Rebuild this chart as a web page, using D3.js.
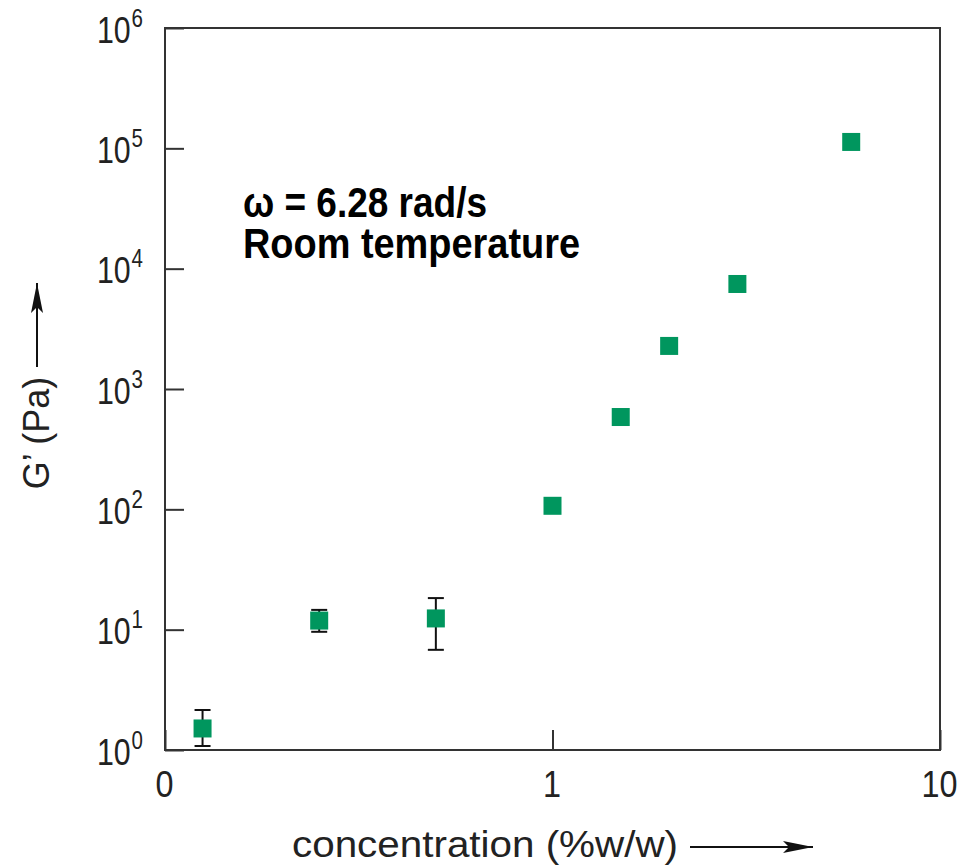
<!DOCTYPE html>
<html>
<head>
<meta charset="utf-8">
<script src="https://cdn.jsdelivr.net/npm/d3@7"></script>
<style>
  html, body { margin: 0; padding: 0; background: #fff; }
  svg { display: block; }
</style>
</head>
<body>
<svg id="chart" width="976" height="865"></svg>
<script>
// Storage modulus G' versus concentration, log–log
const concentration = [0.125, 0.25, 0.5, 1, 1.5, 2, 3, 5.9];
const gPrime        = [1.51, 11.9, 12.4, 107, 585, 2280, 7460, 113000];
const errLow        = [1.08, 9.6, 6.8, null, null, null, null, null];
const errHigh       = [2.15, 14.6, 18.3, null, null, null, null, null];

const xTickValues = [0.1, 1, 10];
const xTickLabels = ["0", "1", "10"];
const yTickValues = [1, 10, 100, 1e3, 1e4, 1e5, 1e6];
const yTickExponents = ["0", "1", "2", "3", "4", "5", "6"];

const margin = { left: 165, top: 28, right: 36, bottom: 115 };
const W = 976, H = 865;
const innerW = W - margin.left - margin.right;   // 775
const innerH = H - margin.top - margin.bottom;   // 722

const svg = d3.select("#chart");
const g = svg.append("g").attr("transform", `translate(${margin.left},${margin.top})`);

const x = d3.scaleLog().domain([0.1, 10]).range([0, innerW]);
const y = d3.scaleLog().domain([1, 1e6]).range([innerH, 0]);

const axisColor = "#333";
const textColor = "#222";
const green = "#00965e";
const font = "'Liberation Sans', Arial, Helvetica, sans-serif";

// Frame
g.append("rect")
  .attr("x", 0).attr("y", 0)
  .attr("width", innerW).attr("height", innerH)
  .attr("fill", "none")
  .attr("stroke", axisColor)
  .attr("stroke-width", 2);

// Y axis: inward ticks, labels as 10^n (one text per label, superscript as tspan)
const yAxis = g.append("g")
  .call(d3.axisLeft(y).tickValues(yTickValues).tickSize(-19).tickFormat(""));
yAxis.select(".domain").remove();
yAxis.selectAll(".tick line").attr("stroke", axisColor).attr("stroke-width", 2);
yAxis.selectAll(".tick").each(function(d, i) {
  const t = d3.select(this).append("text")
    .attr("transform", "translate(-68,14) scale(0.82,1)")
    .attr("text-anchor", "start")
    .attr("fill", textColor)
    .style("font-family", font)
    .style("font-size", "37px");
  t.append("tspan").text("10");
  t.append("tspan")
    .attr("dy", -16)
    .attr("dx", 1)
    .style("font-size", "25px")
    .text(yTickExponents[i]);
});

// X axis: inward ticks
const xAxis = g.append("g")
  .attr("transform", `translate(0,${innerH})`)
  .call(d3.axisBottom(x).tickValues(xTickValues).tickSize(-20)
    .tickFormat((d, i) => xTickLabels[i]));
xAxis.select(".domain").remove();
xAxis.selectAll(".tick line").attr("stroke", axisColor).attr("stroke-width", 2);
xAxis.selectAll(".tick text")
  .attr("y", 47).attr("dy", 0)
  .attr("x", -1)
  .attr("fill", textColor)
  .style("font-family", font)
  .style("font-size", "37px")
  .attr("textLength", (d, i) => xTickLabels[i].length * 18)
  .attr("lengthAdjust", "spacingAndGlyphs");

// Axis titles with arrows
svg.append("defs").append("marker")
  .attr("id", "arrowhead")
  .attr("viewBox", "0 0 30 12")
  .attr("refX", 30).attr("refY", 6)
  .attr("markerWidth", 30).attr("markerHeight", 12)
  .attr("markerUnits", "userSpaceOnUse")
  .attr("orient", "auto")
  .append("path")
  .attr("d", "M0,0 L30,6 L0,12 L6,6 Z")
  .attr("fill", "#111");

svg.append("text")
  .attr("x", 292).attr("y", 857)
  .attr("fill", textColor)
  .style("font-family", font)
  .style("font-size", "37px")
  .attr("textLength", 386)
  .attr("lengthAdjust", "spacingAndGlyphs")
  .text("concentration (%w/w)");
svg.append("line")
  .attr("x1", 690).attr("y1", 847).attr("x2", 813).attr("y2", 847)
  .attr("stroke", "#111").attr("stroke-width", 2)
  .attr("marker-end", "url(#arrowhead)");

svg.append("text")
  .attr("transform", "translate(49,433) rotate(-90)")
  .attr("text-anchor", "middle")
  .attr("fill", textColor)
  .style("font-family", font)
  .style("font-size", "36px")
  .text("G’ (Pa)");
svg.append("line")
  .attr("x1", 37).attr("y1", 367).attr("x2", 37).attr("y2", 283)
  .attr("stroke", "#111").attr("stroke-width", 2)
  .attr("marker-end", "url(#arrowhead)");

// Annotation
const ann = svg.append("text")
  .attr("fill", "#000")
  .style("font-family", font)
  .style("font-weight", "bold")
  .style("font-size", "43px");
ann.append("tspan").attr("x", 243).attr("y", 217)
  .attr("textLength", 244).attr("lengthAdjust", "spacingAndGlyphs")
  .text("ω = 6.28 rad/s");
ann.append("tspan").attr("x", 243).attr("y", 258)
  .attr("textLength", 337).attr("lengthAdjust", "spacingAndGlyphs")
  .text("Room temperature");

// Data: error bars then square markers
const pts = concentration.map((c, i) => ({ c, v: gPrime[i], lo: errLow[i], hi: errHigh[i] }));
const capW = 16;
const eb = g.append("g").selectAll("g")
  .data(pts.filter(d => d.lo != null))
  .join("g")
  .attr("stroke", "#111").attr("stroke-width", 2);
eb.append("line")
  .attr("x1", d => x(d.c)).attr("x2", d => x(d.c))
  .attr("y1", d => y(d.lo)).attr("y2", d => y(d.hi));
eb.append("line")
  .attr("x1", d => x(d.c) - capW / 2).attr("x2", d => x(d.c) + capW / 2)
  .attr("y1", d => y(d.lo)).attr("y2", d => y(d.lo));
eb.append("line")
  .attr("x1", d => x(d.c) - capW / 2).attr("x2", d => x(d.c) + capW / 2)
  .attr("y1", d => y(d.hi)).attr("y2", d => y(d.hi));

const sq = 18;
g.append("g").selectAll("rect")
  .data(pts)
  .join("rect")
  .attr("x", d => x(d.c) - sq / 2)
  .attr("y", d => y(d.v) - sq / 2)
  .attr("width", sq).attr("height", sq)
  .attr("fill", green);
</script>
</body>
</html>
